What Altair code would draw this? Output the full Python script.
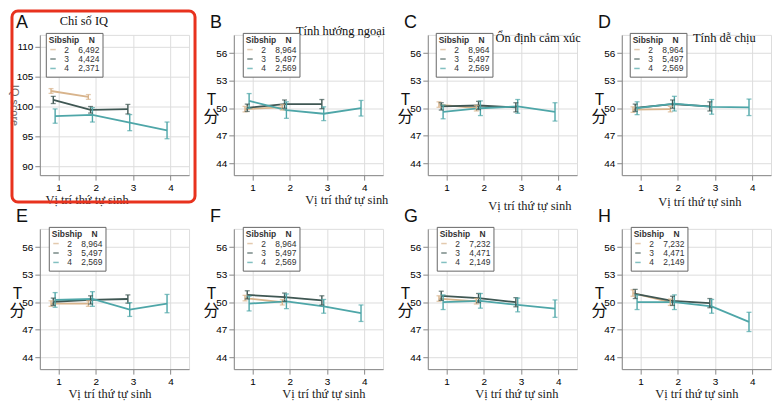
import altair as alt
import pandas as pd

SIBSHIPS = ["2", "3", "4"]
ORDERS = [[1, 2], [1, 2, 3], [1, 2, 3, 4]]
COLORS = ["#d8b48c", "#3f5753", "#4ea6a8"]

# mean and half-width of error bar, per panel: [sibship 2, sibship 3, sibship 4]
mean_A = [[102.6, 101.6], [101.1, 99.45, 99.55], [98.4, 98.6, 97.3, 96.0]]
err_A = [[0.4, 0.4], [0.6, 0.55, 0.8], [1.2, 1.2, 1.35, 1.4]]
mean_B = [[49.9, 50.1], [50.05, 50.45, 50.45], [50.8, 49.8, 49.4, 50.0]]
err_B = [[0.3, 0.3], [0.4, 0.45, 0.5], [0.8, 0.9, 0.75, 0.85]]
mean_C = [[50.4, 50.0], [50.2, 50.3, 50.1], [49.6, 50.0, 50.2, 49.6]]
err_C = [[0.3, 0.3], [0.4, 0.45, 0.5], [0.75, 0.8, 0.75, 1.0]]
mean_D = [[49.85, 49.9], [50.05, 50.45, 50.2], [50.0, 50.5, 50.15, 50.1]]
err_D = [[0.3, 0.3], [0.4, 0.45, 0.5], [0.7, 0.8, 0.8, 0.9]]
mean_E = [[49.85, 49.85], [50.05, 50.25, 50.35], [50.25, 50.35, 49.2, 49.85]]
err_E = [[0.3, 0.3], [0.4, 0.45, 0.45], [0.8, 0.8, 0.75, 1.0]]
mean_F = [[50.45, 50.0], [50.8, 50.55, 50.2], [49.85, 50.1, 49.55, 48.8]]
err_F = [[0.3, 0.3], [0.45, 0.45, 0.5], [0.8, 0.8, 0.75, 0.9]]
mean_G = [[50.4, 50.1], [50.7, 50.45, 50.0], [50.0, 50.15, 49.7, 49.3]]
err_G = [[0.3, 0.3], [0.5, 0.5, 0.5], [0.8, 0.8, 0.75, 0.95]]
mean_H = [[51.0, 50.0], [50.9, 50.15, 49.9], [50.0, 50.0, 49.55, 47.85]]
err_H = [[0.35, 0.35], [0.5, 0.5, 0.5], [0.8, 0.8, 0.75, 1.05]]

N_A = ["6,492", "4,424", "2,371"]
N_BF = ["8,964", "5,497", "2,569"]
N_GH = ["7,232", "4,471", "2,149"]

IQ_TICKS = [90, 95, 100, 105, 110]
T_TICKS = [44, 47, 50, 53, 56]
X_TICKS = [1, 2, 3, 4]
X_TITLE = "Vị trí thứ tự sinh"

W, H = 150, 141
SANS = "Liberation Sans"
SERIF = "Liberation Serif"
NB = "\u00a0"
FS = "\u2007"


def panel(letter, means, errs, ns, ydom, yticks, ytitle, xt=(0, 20),
          note=None, frame=False, lx=9):
    rows = []
    for s, ms, es, orders in zip(SIBSHIPS, means, errs, ORDERS):
        for o, m, e in zip(orders, ms, es):
            rows.append({"sib": s, "order": o, "mean": m, "lo": m - e, "hi": m + e})
    df = pd.DataFrame(rows)
    base = alt.Chart(df).transform_calculate(
        xp="datum.order + (datum.sib == '2' ? -0.2 : datum.sib == '3' ? -0.14 : -0.09)"
    )
    xaxis = alt.Axis(values=X_TICKS, title=X_TITLE, titleFont=SERIF, titleFontSize=12.5,
                     titleFontWeight="normal", titleColor="#222",
                     titleX=W / 2 + xt[0], titleY=xt[1], titleAlign="center",
                     titleBaseline="middle")
    if ytitle == "IQ score":
        yaxis = alt.Axis(values=yticks, title="IQ score", titleAngle=90, titleFont=SANS,
                         titleFontSize=11, titleFontWeight="normal", titleColor="#666",
                         titleX=-26, titleY=H / 2, titleAlign="center",
                         titleBaseline="middle")
    else:
        yaxis = alt.Axis(values=yticks, title=["T", "分"], titleAngle=0,
                         titleFont="Noto Sans CJK SC", titleFontSize=16,
                         titleFontWeight="normal", titleColor="#111",
                         titleAlign="center", titleBaseline="middle",
                         titleX=-23, titleY=H / 2 - 6, titleLineHeight=18)
    xs = alt.Scale(domain=[0.5, 4.5], nice=False, zero=False)
    ys = alt.Scale(domain=ydom, nice=False, zero=False)
    lab = "{" + ",".join(f"'{s}': '{s}{FS}{FS}{n}'" for s, n in zip(SIBSHIPS, ns)) + "}[datum.label]"
    legend = alt.Legend(title=f"Sibship{NB*4}N", orient="none", legendX=lx, legendY=-2,
                        padding=3, strokeColor="#666", fillColor="white", titleFont=SANS,
                        titleFontSize=8.5, titleFontWeight="bold", titleColor="#333",
                        titlePadding=1, labelFont=SANS, labelFontSize=8.5, labelColor="#333",
                        symbolType="stroke", symbolStrokeWidth=1.5, symbolSize=30,
                        labelOffset=7, rowPadding=0.5, labelExpr=lab)
    cscale = alt.Scale(domain=SIBSHIPS, range=COLORS)
    color = alt.Color("sib:N", scale=cscale, legend=legend)
    x = alt.X("xp:Q", scale=xs, axis=xaxis)
    lines = base.mark_line(strokeWidth=1.8).encode(
        x=x, y=alt.Y("mean:Q", scale=ys, axis=yaxis), color=color)
    bars = base.mark_rule(strokeWidth=1.4).encode(
        x=x, y=alt.Y("lo:Q", scale=ys, axis=yaxis), y2="hi:Q", color=color)
    caps_lo = base.mark_tick(orient="horizontal", size=5, thickness=1.3).encode(
        x=x, y=alt.Y("lo:Q", scale=ys, axis=yaxis), color=color)
    caps_hi = base.mark_tick(orient="horizontal", size=5, thickness=1.3).encode(
        x=x, y=alt.Y("hi:Q", scale=ys, axis=yaxis), color=color)
    layers = [lines, bars, caps_lo, caps_hi]
    if note is not None:
        ndf = pd.DataFrame({"nx": [note[0]], "ny": [note[1]], "t": [note[2]]})
        layers.append(alt.Chart(ndf).mark_text(font=SERIF, fontSize=12.5, color="#111",
                                               align="center", baseline="middle").encode(
            x=alt.X("nx:Q", scale=xs, axis=xaxis),
            y=alt.Y("ny:Q", scale=ys, axis=yaxis), text="t:N"))
    ldf = pd.DataFrame({"letter": [letter]})
    layers.append(alt.Chart(ldf).mark_text(font=SANS, fontSize=18, color="#111",
                                           align="left", baseline="alphabetic").encode(
        x=alt.value(-24), y=alt.value(-7), text="letter:N"))
    if frame:
        fdf = pd.DataFrame({"k": [0]})
        layers.append(alt.Chart(fdf).mark_rect(fillOpacity=0, stroke="#e8321e",
                                               strokeWidth=3, cornerRadius=6).encode(
            x=alt.value(-28), x2=alt.value(W + 6), y=alt.value(-24), y2=alt.value(H + 27)))
    return alt.layer(*layers).properties(width=W, height=H)


TD = [42.7, 58]
pA = panel("A", mean_A, err_A, N_A, [88.5, 112], IQ_TICKS, "IQ score", xt=(-28, 24),
           note=(1.68, 114.3, "Chỉ số IQ"), frame=True, lx=6)
pB = panel("B", mean_B, err_B, N_BF, TD, T_TICKS, "T", xt=(38, 24),
           note=(3.36, 58.43, "Tính hướng ngoại"))
pC = panel("C", mean_C, err_C, N_BF, TD, T_TICKS, "T", xt=(27, 31),
           note=(3.46, 57.7, "Ổn định cảm xúc"), lx=8)
pD = panel("D", mean_D, err_D, N_BF, TD, T_TICKS, "T", xt=(3, 27),
           note=(3.25, 57.7, "Tính dễ chịu"), lx=8)
pE = panel("E", mean_E, err_E, N_BF, TD, T_TICKS, "T", xt=(-5, 25))
pF = panel("F", mean_F, err_F, N_BF, TD, T_TICKS, "T", xt=(15, 25))
pG = panel("G", mean_G, err_G, N_GH, TD, T_TICKS, "T", xt=(14, 25))
pH = panel("H", mean_H, err_H, N_GH, TD, T_TICKS, "T", xt=(0, 25))

chart = alt.concat(pA, pB, pC, pD, pE, pF, pG, pH, columns=4,
                   spacing={"row": 54, "column": 45}, bounds="flush").resolve_scale(
    color="independent", x="independent", y="independent").resolve_legend(
    color="independent").properties(padding=0).configure_view(stroke=None).configure_axis(
    grid=False, domainColor="#888", tickColor="#888", tickSize=2, labelFont=SANS,
    labelFontSize=10.5, labelColor="#444", labelPadding=1
).configure(background="white")

chart.save("out.html", embed_options={"renderer": "svg", "actions": False})
